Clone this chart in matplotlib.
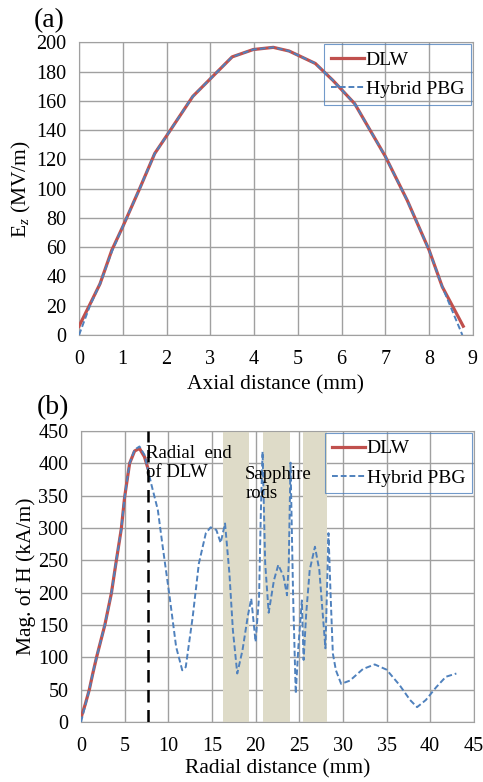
import numpy as np
import matplotlib
matplotlib.use("Agg")
import matplotlib.pyplot as plt

plt.rcParams['font.family'] = ['Liberation Serif', 'DejaVu Serif']
plt.rcParams['mathtext.fontset'] = 'custom'
plt.rcParams['mathtext.rm'] = 'Liberation Serif'
plt.rcParams['mathtext.it'] = 'Liberation Serif:italic'

# (a) axial field
ax_x = [0.0, 0.25, 0.48, 0.75, 1.0, 1.4, 1.73, 2.0, 2.6, 3.0, 3.5, 3.98, 4.44,
        4.8, 5.4, 5.8, 6.3, 7.0, 7.5, 8.0, 8.3, 8.78]
dlw_ez = [6, 21, 35, 58, 74, 101, 124, 136, 163, 175, 190, 195, 196.5,
          194, 185.5, 174, 158, 122, 92, 58, 33, 6]
hyb_x = [0.0, 0.25, 0.48, 0.75, 1.0, 1.4, 1.73, 2.0, 2.6, 3.0, 3.5, 3.98, 4.44,
         4.8, 5.4, 5.8, 6.3, 7.0, 7.5, 8.0, 8.3, 8.76]
hyb_ez = [0, 20, 35, 57, 74, 101, 124, 136, 163, 175, 190, 195, 196.5,
          194, 185.5, 174, 158, 122, 92, 58, 33, 0]

# (b) radial magnetic field
dlw_r = [0.08, 0.5, 0.95, 1.35, 1.78, 2.73, 3.48, 4.05, 4.62, 5.0, 5.57, 6.14, 6.7, 7.27, 7.65]
dlw_h = [10, 28, 50, 75, 100, 150, 199, 250, 299, 348, 400, 419, 423, 410, 393]
pbg_r = [0.0, 0.5, 0.95, 1.35, 1.78, 2.73, 3.48, 4.05, 4.62, 5.0, 5.57, 6.14, 6.7,
         7.27, 8.03, 8.8, 9.36, 10.1, 10.9, 11.6, 12.0, 12.8, 13.5, 14.3,
         14.85, 15.5, 16.0, 16.5, 17.0, 17.4, 17.9, 18.5, 19.1, 19.5, 20.0,
         20.4, 20.6, 20.8, 21.1, 21.5, 22.1, 22.6, 23.2, 23.6, 23.8, 24.0,
         24.3, 24.6, 24.9, 25.3, 25.5, 25.8, 26.2, 26.8, 27.3, 28.0, 28.35,
         28.6, 28.85, 29.2, 29.8, 30.8, 32.3, 33.65, 35.0, 36.5, 37.7, 38.5,
         39.5, 40.7, 41.8, 43.0]
pbg_h = [0, 26, 50, 75, 100, 150, 199, 250, 299, 348, 400, 421, 426,
         413, 369, 328, 271, 199, 116, 80, 85, 163, 245, 292,
         301, 297, 277, 307, 230, 142, 75, 111, 163, 191, 124,
         194, 323, 418, 245, 169, 219, 243, 225, 196, 245, 401,
         194, 44, 116, 188, 96, 168, 235, 271, 235, 114, 292,
         194, 106, 80, 59, 64, 82, 89, 81, 57, 34, 23,
         34, 54, 70, 75]
rods = [(16.3, 19.3), (20.9, 23.9), (25.4, 28.2)]
dlw_end = 7.7

red = '#c0504d'
blue = '#4f81bd'
grid_c = '#a0a0a0'

fig = plt.figure(figsize=(4.83, 7.82), dpi=100)
ax1 = fig.add_axes([0.1636, 0.5716, 0.8154, 0.3744])
ax2 = fig.add_axes([0.1677, 0.0767, 0.8133, 0.3722])

for ax in (ax1, ax2):
    ax.grid(True, color=grid_c, linewidth=1.0, zorder=0)
    ax.set_axisbelow(True)
    ax.tick_params(length=0, labelsize=14.5, pad=11)
    ax.tick_params(axis='y', pad=9)
    for s in ax.spines.values():
        s.set_color(grid_c)

ax1.plot(ax_x, dlw_ez, color=red, lw=2.3, label='DLW', zorder=3)
ax1.plot(hyb_x, hyb_ez, color=blue, lw=1.4, ls=(0, (3, 1.5)), label='Hybrid PBG', zorder=4)
ax1.set_xlim(0, 9)
ax1.set_ylim(0, 200)
ax1.set_xticks(range(0, 10))
ax1.set_yticks(range(0, 201, 20))
ax1.set_xlabel('Axial distance (mm)', fontsize=15.5, labelpad=4)
ax1.set_ylabel(r'E$_z$ (MV/m)', fontsize=15.5, labelpad=2)

for a, b in rods:
    ax2.axvspan(a, b, color='#dedbc8', lw=0, zorder=1)
ax2.axvline(dlw_end, color='black', lw=1.8, ls=(0, (5, 3)), zorder=5)
ax2.plot(dlw_r, dlw_h, color=red, lw=2.3, label='DLW', zorder=3)
ax2.plot(pbg_r, pbg_h, color=blue, lw=1.4, ls=(0, (3, 1.5)), label='Hybrid PBG', zorder=4)
ax2.set_xlim(0, 45)
ax2.set_ylim(0, 450)
ax2.set_xticks(range(0, 46, 5))
ax2.set_yticks(range(0, 451, 50))
ax2.set_xlabel('Radial distance (mm)', fontsize=15.5, labelpad=2)
ax2.set_ylabel('Mag. of H (kA/m)', fontsize=15.5, labelpad=2)
ax2.text(7.5, 428, 'Radial  end\nof DLW', fontsize=13.5, va='top', ha='left',
         linespacing=1.15, zorder=6)
ax2.text(18.8, 396, 'Sapphire\nrods', fontsize=13.5, va='top', ha='left',
         linespacing=1.15, zorder=6)

for ax in (ax1, ax2):
    leg = ax.legend(loc='upper right', fontsize=14, fancybox=False,
                    edgecolor=blue, handlelength=1.7,
                    handletextpad=0.1, borderaxespad=0.1, labelspacing=0.6,
                    borderpad=0.35)
    leg.get_frame().set_facecolor('none')
    leg.get_frame().set_linewidth(0.8)

fig.text(0.101, 0.974, '(a)', fontsize=20, ha='center', va='center')
fig.text(0.11, 0.479, '(b)', fontsize=20, ha='center', va='center')

fig.savefig('out.png', dpi=100)
